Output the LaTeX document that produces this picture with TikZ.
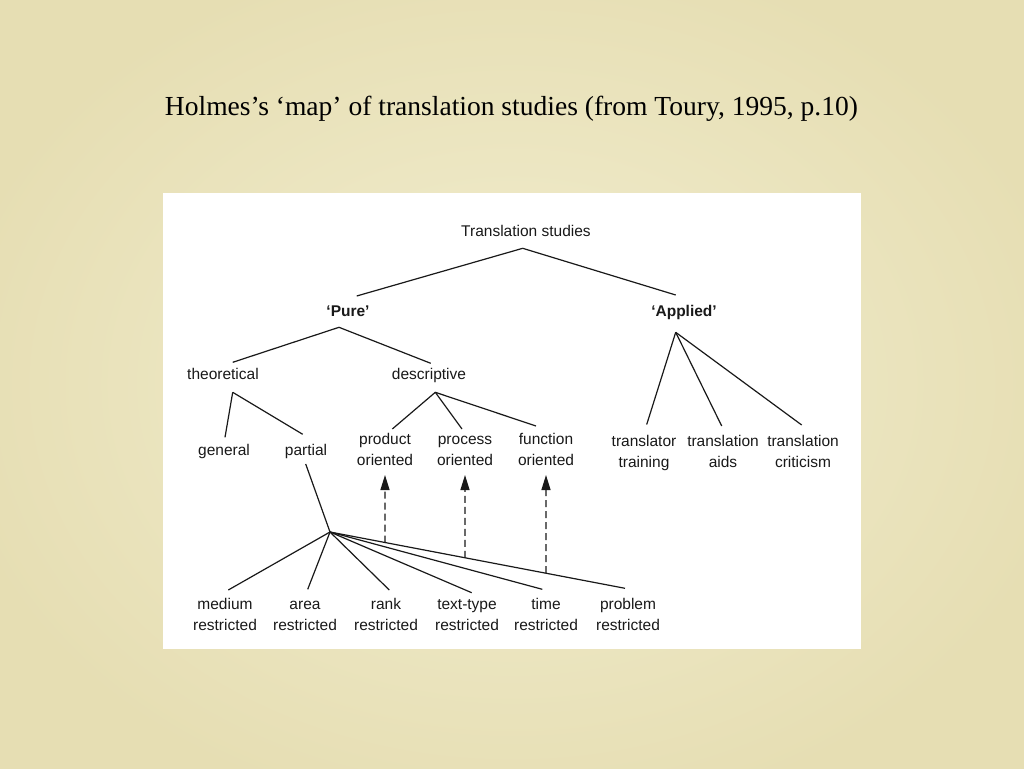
\documentclass[tikz,border=0pt]{standalone}
\usepackage{fontspec}
\setmainfont{Liberation Serif}
\newfontfamily\diagfont{Liberation Sans}
\usetikzlibrary{calc,arrows.meta}
\definecolor{bgin}{RGB}{242,238,208}
\definecolor{bgout}{RGB}{230,222,179}
\definecolor{ink}{RGB}{25,25,25}
\newcommand\ts{\rule{0pt}{11.2pt}}
\begin{document}
\begin{tikzpicture}[x=1pt,y=-1pt,
  lbl/.style={font=\diagfont\fontsize{15.5}{21}\selectfont, align=center, inner sep=0pt, text=ink, text depth=0pt},
  boldlbl/.style={lbl, font=\diagfont\bfseries\fontsize{15.5}{21}\selectfont},
  branch/.style={draw=ink, line width=1.2pt},
  dasharrow/.style={draw=ink, line width=1.3pt, dash pattern=on 7pt off 4pt, -{Triangle[length=15pt,width=9pt]}}
]
\useasboundingbox (0,0) rectangle (1024,768);
\shade[inner color=bgin, outer color=bgout] (-60,-60) rectangle (1084,828);
\fill[white] (163,193) rectangle (861,649);

\node[font=\fontsize{24}{28}\selectfont, text=black, inner sep=0pt] (title) at (511.5,109)
  {\resizebox{693pt}{!}{Holmes’s ‘map’ of translation studies (from Toury, 1995, p.10)}};

\node[lbl] (ts) at (526,231) {\ts Translation studies};
\node[boldlbl] (pure) at (348,311) {\ts‘Pure’};
\node[boldlbl] (applied) at (684,311) {\ts‘Applied’};
\node[lbl] (theo) at (223,374) {\ts theoretical};
\node[lbl] (desc) at (429,374) {\ts descriptive};
\node[lbl] (general) at (224,450) {\ts general};
\node[lbl] (partial) at (306,450) {\ts partial};
\node[lbl] (product) at (385,449.5) {\ts product\\oriented};
\node[lbl] (process) at (465,449.5) {\ts process\\oriented};
\node[lbl] (function) at (546,449.5) {\ts function\\oriented};
\node[lbl] (training) at (644,451.5) {\ts translator\\training};
\node[lbl] (aids) at (723,451.5) {\ts translation\\aids};
\node[lbl] (crit) at (803,451.5) {\ts translation\\criticism};
\node[lbl] (medium) at (225,614) {\ts medium\\restricted};
\node[lbl] (area) at (305,614) {\ts area\\restricted};
\node[lbl] (rank) at (386,614) {\ts rank\\restricted};
\node[lbl] (ttype) at (467,614) {\ts text-type\\restricted};
\node[lbl] (time) at (546,614) {\ts time\\restricted};
\node[lbl] (problem) at (628,614) {\ts problem\\restricted};

\coordinate (hub) at (330,532);
\coordinate (pend) at ($(problem.center)+(-3,-25.7)$);

% top level
\draw[branch] ($(ts.center)+(-3.3,17.3)$) -- ($(pure.center)+(8.7,-15)$);
\draw[branch] ($(ts.center)+(-3.3,17.3)$) -- ($(applied.center)+(-8.3,-16)$);
% pure
\draw[branch] ($(pure.center)+(-9,16.3)$) -- ($(theo.center)+(9.7,-11.7)$);
\draw[branch] ($(pure.center)+(-9,16.3)$) -- ($(desc.center)+(1.7,-10.7)$);
% theoretical
\draw[branch] ($(theo.center)+(9.7,18.3)$) -- ($(general.center)+(1,-12.7)$);
\draw[branch] ($(theo.center)+(9.7,18.3)$) -- ($(partial.center)+(-3.3,-15.7)$);
% descriptive
\draw[branch] ($(desc.center)+(6.3,18.3)$) -- ($(product.center)+(7.3,-20.5)$);
\draw[branch] ($(desc.center)+(6.3,18.3)$) -- ($(process.center)+(-3,-20.5)$);
\draw[branch] ($(desc.center)+(6.3,18.3)$) -- ($(function.center)+(-10,-23.5)$);
% applied
\draw[branch] ($(applied.center)+(-8.3,21.3)$) -- ($(training.center)+(2.7,-27)$);
\draw[branch] ($(applied.center)+(-8.3,21.3)$) -- ($(aids.center)+(-1.3,-25.5)$);
\draw[branch] ($(applied.center)+(-8.3,21.3)$) -- ($(crit.center)+(-1.3,-26.5)$);
% partial
\draw[branch] ($(partial.center)+(-0.3,14)$) -- (hub);
\draw[branch] (hub) -- ($(medium.center)+(3.3,-24)$);
\draw[branch] (hub) -- ($(area.center)+(2.7,-24.7)$);
\draw[branch] (hub) -- ($(rank.center)+(3.3,-24)$);
\draw[branch] (hub) -- ($(ttype.center)+(4.7,-21.3)$);
\draw[branch] (hub) -- ($(time.center)+(-3.7,-24.7)$);
\draw[branch] (hub) -- (pend);
% dashed arrows
\draw[dasharrow] (intersection of hub--pend and product.center--product.south) -- ($(product.center)+(0,25.5)$);
\draw[dasharrow] (intersection of hub--pend and process.center--process.south) -- ($(process.center)+(0,25.5)$);
\draw[dasharrow] (intersection of hub--pend and function.center--function.south) -- ($(function.center)+(0,25.5)$);
\end{tikzpicture}
\end{document}
